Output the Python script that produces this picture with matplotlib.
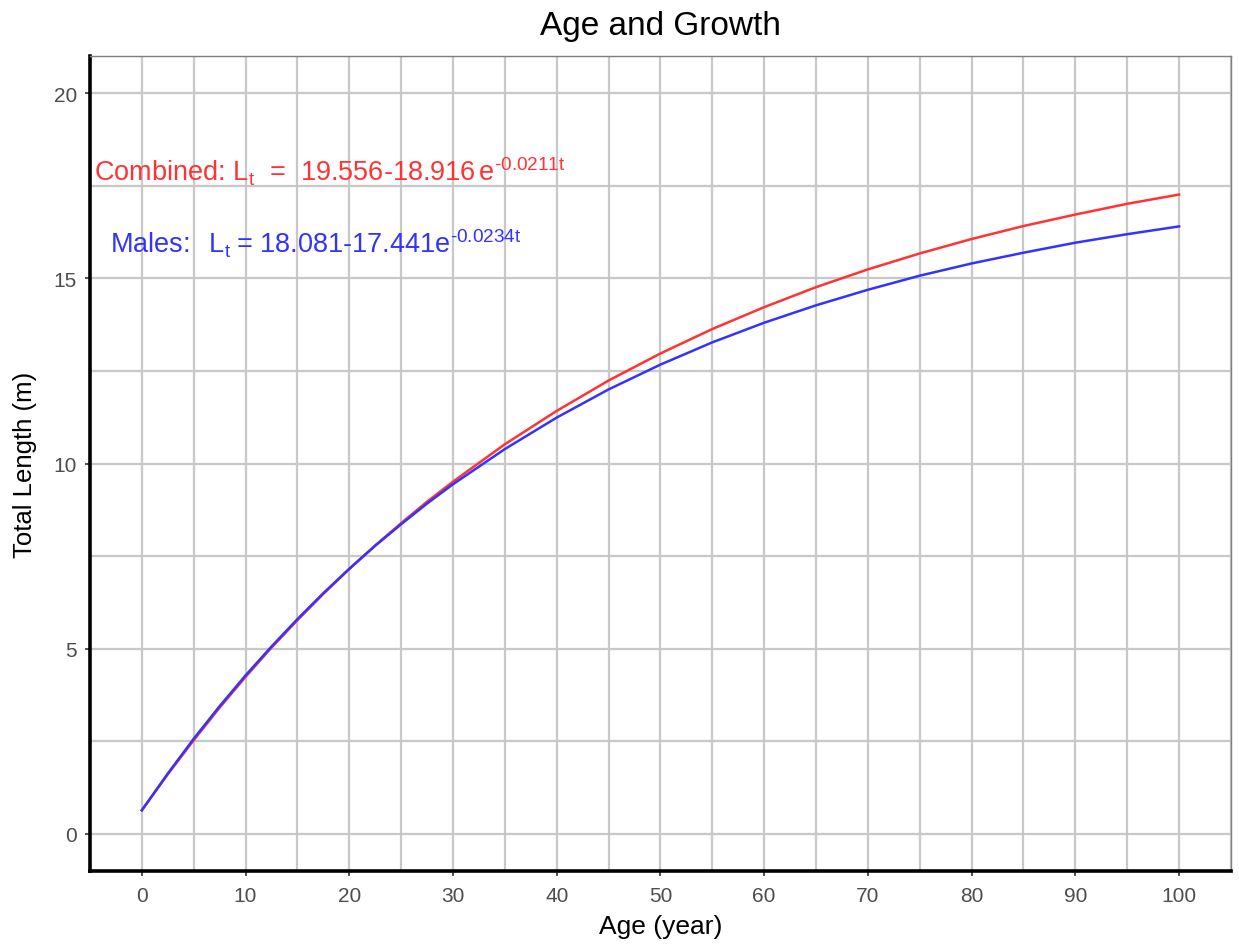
import matplotlib.pyplot as plt
from matplotlib.ticker import MultipleLocator

plt.rcParams['font.family'] = ['Liberation Sans', 'DejaVu Sans']
plt.rcParams['mathtext.fontset'] = 'custom'
plt.rcParams['mathtext.rm'] = 'Liberation Sans'
plt.rcParams['mathtext.it'] = 'Liberation Sans'
plt.rcParams['mathtext.default'] = 'regular'

# lengths (denser where the curves bend most)
age = [0, 2.5, 5, 7.5, 10, 12.5, 15, 17.5, 20, 22.5, 25, 27.5, 30, 35, 40, 45, 50,
       55, 60, 65, 70, 75, 80, 85, 90, 95, 100]
combined = [0.64, 1.61, 2.53, 3.41, 4.24, 5.03, 5.77, 6.48, 7.15, 7.79, 8.39, 8.97,
            9.51, 10.52, 11.42, 12.24, 12.97, 13.63, 14.22, 14.76, 15.24, 15.67,
            16.06, 16.41, 16.72, 17.01, 17.26]
males = [0.64, 1.63, 2.57, 3.45, 4.28, 5.06, 5.80, 6.50, 7.16, 7.78, 8.36, 8.92,
         9.44, 10.39, 11.24, 12.00, 12.67, 13.27, 13.80, 14.27, 14.69, 15.07,
         15.40, 15.69, 15.96, 16.19, 16.40]

fig = plt.figure(figsize=(12.39, 9.45), dpi=100)
ax = fig.add_axes([0.0726, 0.0772, 0.9209, 0.8625])

ax.plot(age, combined, color='#FF3333', lw=1.8, zorder=3)
ax.plot(age, males, color='#3333FF', lw=1.8, zorder=4)

ax.text(-4.6, 17.9, r'Combined: $L_t$  =  19.556-18.916$\,e^{\text{-}0.0211t}$',
        color='#FF3333', fontsize=19.5, va='center', ha='left')
ax.text(-3.1, 15.95, r'Males:  $\,L_t\;$= 18.081-17.441$e^{\text{-}0.0234t}$',
        color='#3333FF', fontsize=19.5, va='center', ha='left')

ax.set_xlim(-5, 105)
ax.set_ylim(-1, 21)
ax.xaxis.set_major_locator(MultipleLocator(10))
ax.xaxis.set_minor_locator(MultipleLocator(5))
ax.yaxis.set_major_locator(MultipleLocator(5))
ax.yaxis.set_minor_locator(MultipleLocator(2.5))
ax.grid(True, which='both', color='#C8C8C8', lw=1.6)
ax.set_axisbelow(True)
ax.tick_params(which='minor', length=0)
ax.tick_params(which='major', length=3.5, width=1.2, color='#333333',
               labelcolor='#4D4D4D', labelsize=15)
ax.tick_params(axis='x', pad=7.5)
ax.tick_params(axis='y', pad=6)

for s in ['top', 'right']:
    ax.spines[s].set_color('#7F7F7F')
    ax.spines[s].set_linewidth(1)
for s in ['left', 'bottom']:
    ax.spines[s].set_color('black')
    ax.spines[s].set_linewidth(2.6)

ax.set_title('Age and Growth', fontsize=24, pad=16)
ax.set_xlabel('Age (year)', fontsize=19, labelpad=6)
ax.set_ylabel('Total Length (m)', fontsize=18.5, labelpad=12)

fig.savefig('out.png', dpi=100)
